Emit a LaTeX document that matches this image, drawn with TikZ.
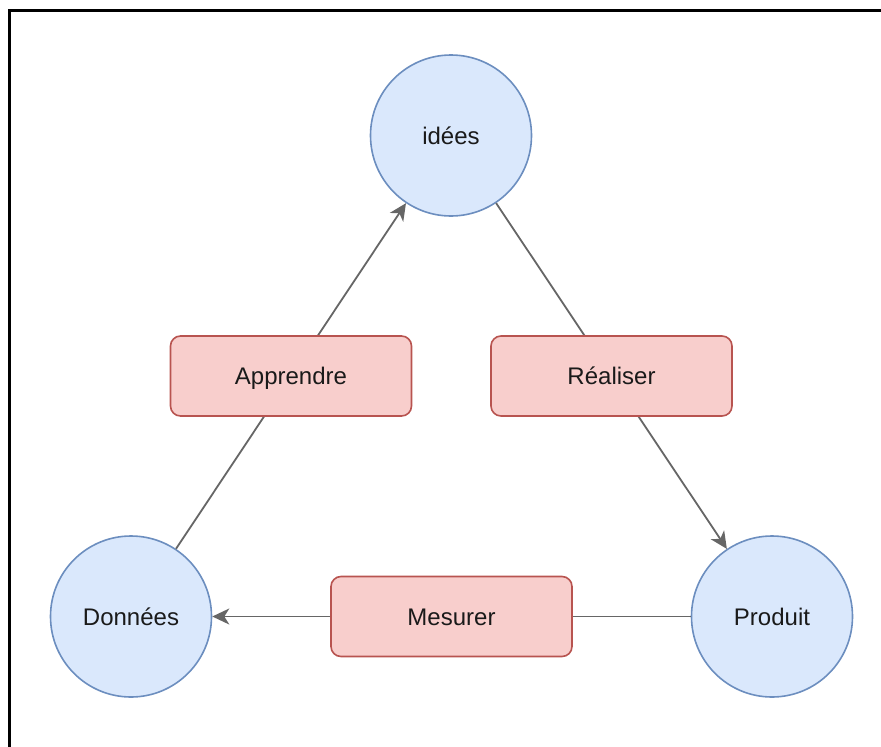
\documentclass[tikz,border=0pt]{standalone}
\usepackage{fontspec}
\setmainfont{Liberation Sans}
\usetikzlibrary{arrows.meta}

\definecolor{stateFill}{HTML}{DAE8FC}
\definecolor{stateLine}{HTML}{6C8EBF}
\definecolor{actFill}{HTML}{F8CECC}
\definecolor{actLine}{HTML}{B85450}
\definecolor{edgeGray}{HTML}{666666}
\definecolor{labelInk}{HTML}{1A1A1A}

\tikzset{
  % text box holds cap height only, so every label sits optically centred
  labeltext/.style={text=labelInk, font=\fontsize{24}{28}\selectfont,
    text height=17.2pt, text depth=0pt},
  state/.style={labeltext, circle, draw=stateLine, fill=stateFill,
    line width=1.6pt, minimum size=161pt, inner sep=0pt},
  action/.style={labeltext, rectangle, rounded corners=10pt, draw=actLine,
    fill=actFill, line width=1.6pt, minimum width=241pt, minimum height=80pt,
    inner sep=0pt},
  flow/.style={draw=edgeGray, line width=1.8pt,
    -{Stealth[length=17pt, width=16pt, inset=5pt]}},
  frameline/.style={draw=black, line width=2.5pt}
}

\begin{document}
\begin{tikzpicture}[x=1pt, y=-1pt]
  \useasboundingbox (0,0) rectangle (881,747);

  % open frame: left and top sides only
  \coordinate (fbl) at (9.5,747);
  \coordinate (ftl) at (9.5,10.5);
  \coordinate (ftr) at (881,10.5);
  \draw[frameline] (fbl) -- (ftl) -- (ftr);

  % the three states of the cycle
  \node[state] (idees) at (451,135.5) {idées};
  \node[state] (donnees) at (131,616.5) {Données};
  \node[state] (produit) at (772,616.5) {Produit};

  % transitions, each labelled by its action
  \draw[flow] (donnees) -- node[action] (apprendre) {Apprendre} (idees);
  \draw[flow] (idees) -- node[action] (realiser) {Réaliser} (produit);
  \draw[flow] (produit) -- node[action] (mesurer) {Mesurer} (donnees);
\end{tikzpicture}
\end{document}
